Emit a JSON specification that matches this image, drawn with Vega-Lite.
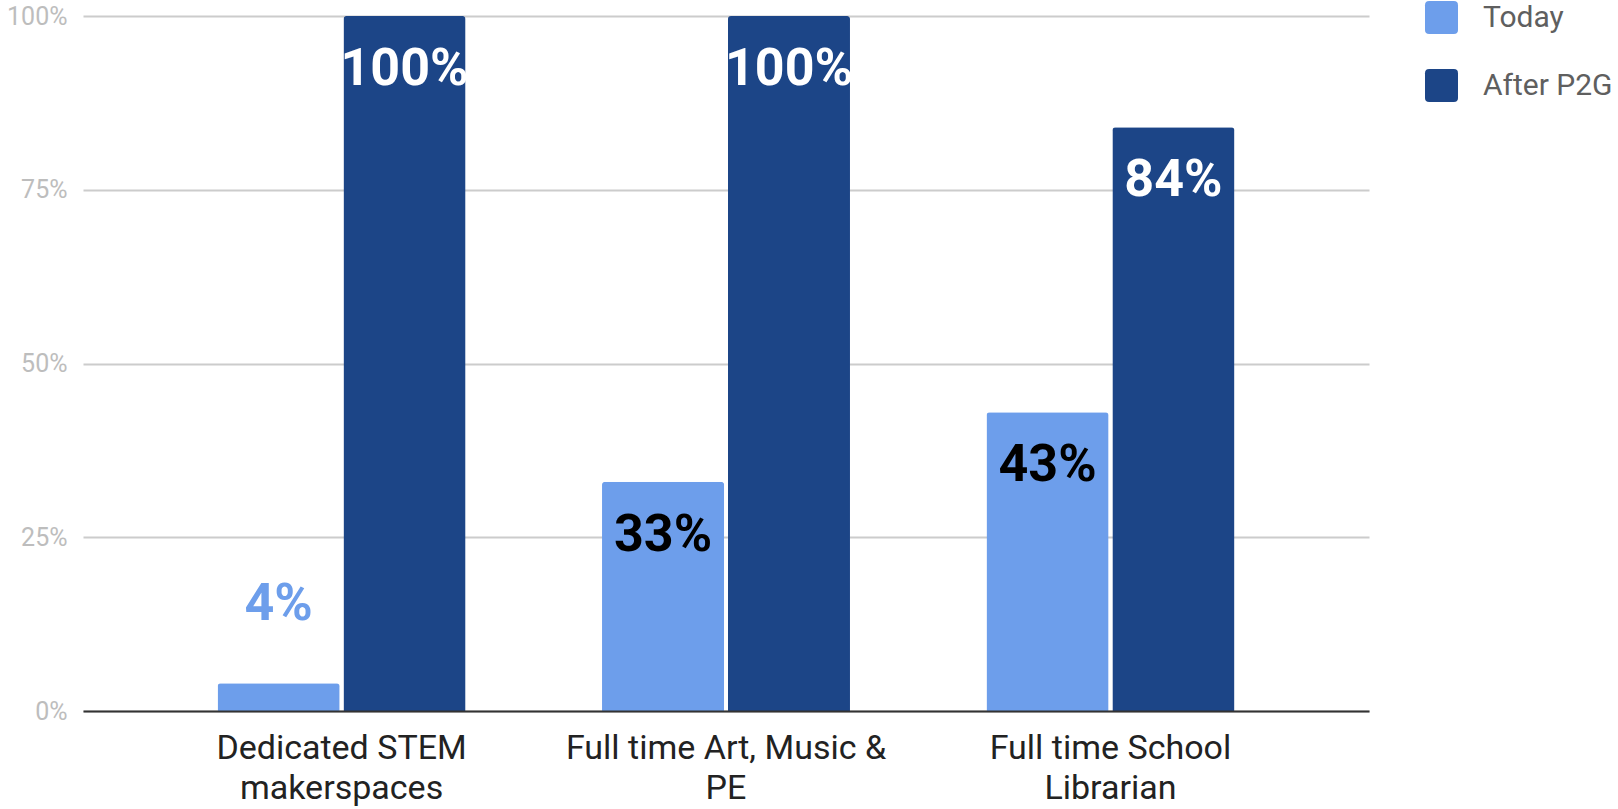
{
  "$schema": "https://vega.github.io/schema/vega-lite/v6.json",
  "width": 1286,
  "height": 695,
  "autosize": {"type": "none"},
  "padding": {"left": 83, "top": 16, "right": 249, "bottom": 98},
  "background": "white",
  "config": {
    "font": "Roboto",
    "view": {"stroke": null}
  },
  "data": {
    "values": [
      {"category": "Dedicated STEM makerspaces", "series": "Today", "value": 0.04},
      {"category": "Dedicated STEM makerspaces", "series": "After P2G", "value": 1.0},
      {"category": "Full time Art, Music & PE", "series": "Today", "value": 0.33},
      {"category": "Full time Art, Music & PE", "series": "After P2G", "value": 1.0},
      {"category": "Full time School Librarian", "series": "Today", "value": 0.43},
      {"category": "Full time School Librarian", "series": "After P2G", "value": 0.84}
    ]
  },
  "encoding": {
    "x": {
      "field": "category",
      "type": "nominal",
      "sort": null,
      "scale": {"paddingInner": 0.355, "paddingOuter": 0.35},
      "axis": {
        "title": null,
        "labelAngle": 0,
        "labelFontSize": 34,
        "labelColor": "#222222",
        "labelLineHeight": 40,
        "labelPadding": 20,
        "labelBaseline": "top",
        "labelLimit": 0,
        "ticks": false,
        "domain": true,
        "domainColor": "#333333",
        "domainWidth": 2,
        "zindex": 1,
        "labelExpr": "datum.label == 'Dedicated STEM makerspaces' ? ['Dedicated STEM', 'makerspaces'] : datum.label == 'Full time Art, Music & PE' ? ['Full time Art, Music &', 'PE'] : ['Full time School', 'Librarian']"
      }
    },
    "xOffset": {
      "field": "series",
      "type": "nominal",
      "sort": ["Today", "After P2G"],
      "scale": {"paddingInner": 0.03}
    },
    "y": {
      "field": "value",
      "type": "quantitative",
      "scale": {"domain": [0, 1]},
      "axis": {
        "title": null,
        "values": [0, 0.25, 0.5, 0.75, 1],
        "format": ".0%",
        "labelFontSize": 25,
        "labelColor": "#bdbdbd",
        "labelPadding": 16,
        "ticks": false,
        "domain": false,
        "gridColor": "#cccccc",
        "gridWidth": 2
      }
    }
  },
  "layer": [
    {
      "mark": {"type": "bar", "cornerRadiusTopLeft": 3, "cornerRadiusTopRight": 3},
      "encoding": {
        "color": {
          "field": "series",
          "type": "nominal",
          "sort": ["Today", "After P2G"],
          "scale": {"domain": ["Today", "After P2G"], "range": ["#6d9eeb", "#1c4587"]},
          "legend": {
            "title": null,
            "orient": "none",
            "legendX": 1342,
            "legendY": -15,
            "padding": 0,
            "labelFontSize": 30,
            "labelColor": "#5f5f5f",
            "labelOffset": 25,
            "labelLimit": 0,
            "rowPadding": 35,
            "symbolSize": 1089,
            "symbolType": "M -0.75 -1 L 0.75 -1 Q 1 -1 1 -0.75 L 1 0.75 Q 1 1 0.75 1 L -0.75 1 Q -1 1 -1 0.75 L -1 -0.75 Q -1 -1 -0.75 -1 Z",
            "symbolStrokeWidth": 0,
            "symbolOpacity": 1
          }
        }
      }
    },
    {
      "transform": [{"filter": "datum.value >= 0.1"}],
      "mark": {"type": "text", "fontSize": 52, "fontWeight": "bold", "dy": 69, "baseline": "alphabetic"},
      "encoding": {
        "text": {"field": "value", "type": "quantitative", "format": ".0%"},
        "color": {"condition": {"test": "datum.series === 'After P2G'", "value": "#ffffff"}, "value": "#000000"}
      }
    },
    {
      "transform": [{"filter": "datum.value < 0.1"}],
      "mark": {"type": "text", "fontSize": 52, "fontWeight": "bold", "dy": -63, "baseline": "alphabetic", "color": "#6d9eeb"},
      "encoding": {
        "text": {"field": "value", "type": "quantitative", "format": ".0%"}
      }
    }
  ]
}
